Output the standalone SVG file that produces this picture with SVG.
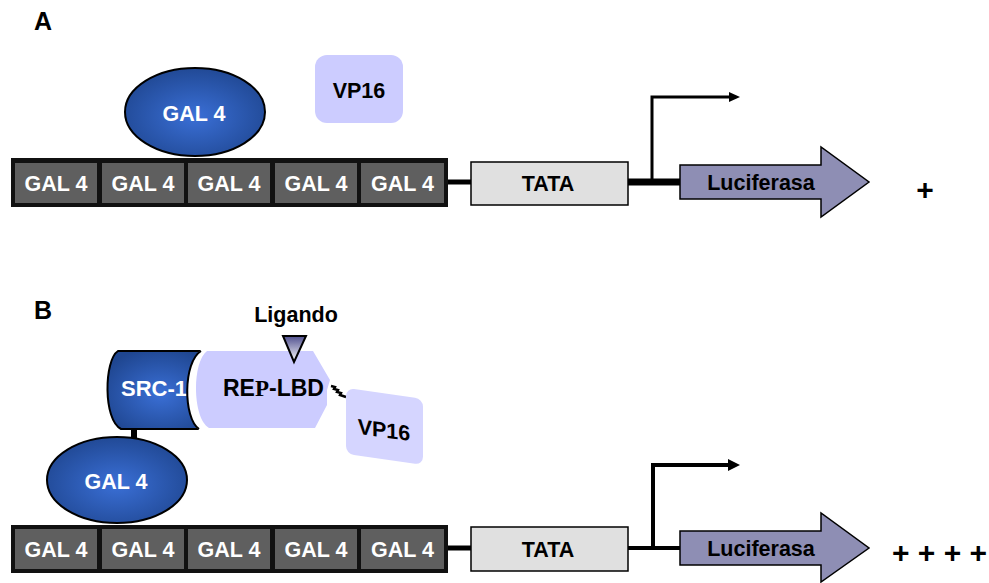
<svg xmlns="http://www.w3.org/2000/svg" width="989" height="583" viewBox="0 0 989 583">
  <defs>
    <radialGradient id="blueGrad" cx="50%" cy="55%" r="60%">
      <stop offset="0" stop-color="#3a6fd6"/>
      <stop offset="1" stop-color="#1f4690"/>
    </radialGradient>
    <linearGradient id="ligGrad" x1="0" y1="0" x2="0" y2="1">
      <stop offset="0" stop-color="#50508f"/>
      <stop offset="1" stop-color="#ffffff"/>
    </linearGradient>
    <style>
      text { font-family: "Liberation Sans", Arial, sans-serif; font-weight: bold; }
      .w { fill: #ffffff; font-size: 21.5px; text-anchor: middle; }
      .k { fill: #000000; font-size: 21.5px; text-anchor: middle; }
      .cell { fill: #5f5f5f; }
      .bar { fill: #111111; }
      .tata { fill: #e0e0e0; stroke: #000000; stroke-width: 1.5; }
      .luc { fill: #8e8eb4; stroke: #000000; stroke-width: 1.5; }
      .gal { fill: url(#blueGrad); stroke: #000000; stroke-width: 2; }
      .wire { stroke: #000000; fill: none; }
    </style>
  </defs>

  <!-- panel labels -->
  <text x="34" y="30" font-size="25">A</text>
  <text x="34" y="319" font-size="25">B</text>

  <!-- connectors: DNA backbone and transcription start arrows -->
  <g id="connectors">
    <line class="wire" x1="448" y1="182" x2="471" y2="182" stroke-width="5"/>
    <line class="wire" x1="628" y1="182" x2="681" y2="182" stroke-width="7"/>
    <path class="wire" d="M652 184 V97 H731" stroke-width="3"/>
    <polygon points="729,92 740,97 729,102" fill="#000"/>

    <line class="wire" x1="448" y1="548" x2="471" y2="548" stroke-width="5"/>
    <line class="wire" x1="628" y1="548" x2="681" y2="548" stroke-width="4"/>
    <path class="wire" d="M653 550 V465 H730" stroke-width="4"/>
    <polygon points="728,459 740,465 728,471" fill="#000"/>

    <rect x="131" y="427" width="6" height="12" fill="#000"/>
    <path class="wire" d="M331 386 L335 387 L334 389 L338 390 L337 392 L341 393 L340 395 L346 397" stroke-width="2.5"/>
  </g>

  <!-- panel A -->
  <g id="barA">
    <rect class="bar" x="11" y="158" width="437" height="49"/>
    <rect class="cell" x="15" y="163" width="82" height="40"/>
    <rect class="cell" x="102" y="163" width="82" height="40"/>
    <rect class="cell" x="188" y="163" width="82" height="40"/>
    <rect class="cell" x="275" y="163" width="82" height="40"/>
    <rect class="cell" x="361" y="163" width="83" height="40"/>
    <text class="w" x="56" y="191">GAL 4</text>
    <text class="w" x="143" y="191">GAL 4</text>
    <text class="w" x="229" y="191">GAL 4</text>
    <text class="w" x="316" y="191">GAL 4</text>
    <text class="w" x="402.5" y="191">GAL 4</text>
  </g>
  <g id="gal4A">
    <ellipse class="gal" cx="195" cy="112" rx="70" ry="44"/>
    <text class="w" x="194" y="121" font-size="22">GAL 4</text>
  </g>
  <g id="vp16A">
    <rect x="315" y="55" width="88" height="68" rx="12" fill="#ccccff"/>
    <text class="k" x="359" y="98" font-size="22.5">VP16</text>
  </g>
  <g id="tataA">
    <rect class="tata" x="471" y="162" width="157" height="43"/>
    <text class="k" x="548" y="191">TATA</text>
  </g>
  <g id="lucA">
    <polygon class="luc" points="680,165 821,165 821,147 869,182 821,217 821,199 680,199"/>
    <text class="k" x="761" y="190" font-size="22.6">Luciferasa</text>
  </g>
  <g id="plusA">
    <text x="925" y="200" font-size="30" text-anchor="middle">+</text>
  </g>

  <!-- panel B -->
  <g id="barB">
    <rect class="bar" x="11" y="525" width="437" height="48"/>
    <rect class="cell" x="15" y="529" width="82" height="40"/>
    <rect class="cell" x="102" y="529" width="82" height="40"/>
    <rect class="cell" x="188" y="529" width="82" height="40"/>
    <rect class="cell" x="275" y="529" width="82" height="40"/>
    <rect class="cell" x="361" y="529" width="83" height="40"/>
    <text class="w" x="56" y="557">GAL 4</text>
    <text class="w" x="143" y="557">GAL 4</text>
    <text class="w" x="229" y="557">GAL 4</text>
    <text class="w" x="316" y="557">GAL 4</text>
    <text class="w" x="402.5" y="557">GAL 4</text>
  </g>
  <g id="gal4B">
    <ellipse class="gal" cx="117" cy="480" rx="70" ry="43"/>
    <text class="w" x="116" y="489" font-size="22">GAL 4</text>
  </g>
  <g id="src1">
    <path class="gal" d="M118 351 L214 351 L214 429 L121 429 C103 420 104 360 118 351 Z"/>
    <text x="121" y="396" font-size="22" fill="#ffffff">SRC-1</text>
    <path d="M201 350 C183 362 183 418 199 430 L216 430 L216 350 Z" fill="#ffffff"/>
    <path class="wire" d="M201 351 C183 362 183 418 199 429" stroke-width="2"/>
  </g>
  <g id="repLBD">
    <path d="M207 351 L313 351 L330 380 L327 390 L327 405 L315 428 L209 428 C192 418 192 362 207 351 Z" fill="#ccccff"/>
    <text x="223" y="396" font-size="23" fill="#000">RE<tspan font-family="'Liberation Serif', 'Times New Roman', serif">P</tspan>-LBD</text>
  </g>
  <g id="ligando">
    <text class="k" x="296" y="322" font-size="22.6">Ligando</text>
    <polygon points="283,336 306,336 294,362" fill="url(#ligGrad)" stroke="#000" stroke-width="2" stroke-linejoin="miter"/>
  </g>
  <g id="vp16B" transform="translate(346 388) skewY(8)">
    <rect x="0" y="0" width="77" height="66" rx="8" fill="#d5d5ff"/>
    <text class="k" x="38" y="44" font-size="22.5">VP16</text>
  </g>
  <g id="tataB">
    <rect class="tata" x="471" y="527" width="157" height="44"/>
    <text class="k" x="548" y="557">TATA</text>
  </g>
  <g id="lucB">
    <polygon class="luc" points="680,531 821,531 821,513 869,548 821,582 821,565 680,565"/>
    <text class="k" x="761" y="556" font-size="22.6">Luciferasa</text>
  </g>
  <g id="plusB">
    <text x="892" y="563" font-size="30">+ + + +</text>
  </g>
</svg>
